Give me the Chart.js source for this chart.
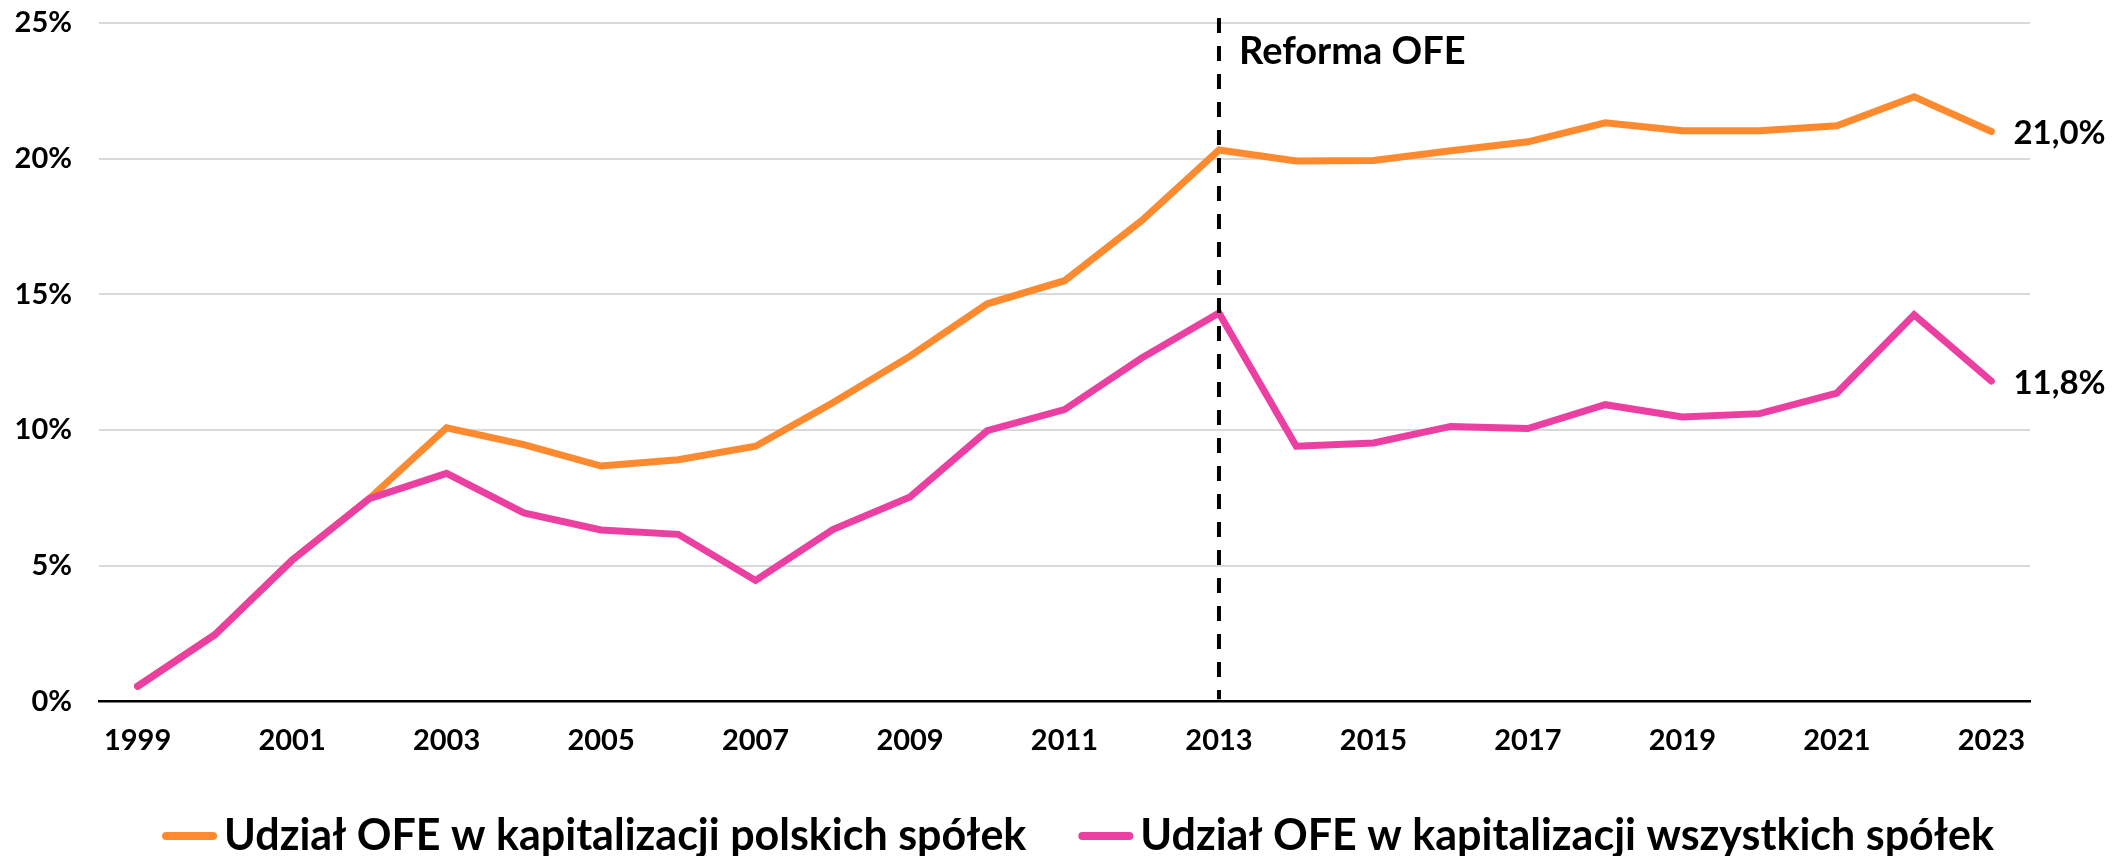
<!DOCTYPE html>
<html>
<head>
<meta charset="utf-8">
<script src="https://cdn.jsdelivr.net/npm/chart.js@4.4.1/dist/chart.umd.min.js"></script>
<style>
  body { margin: 0; background: #fff; }
  #wrap { width: 2116px; height: 856px; }
</style>
</head>
<body>
<div id="wrap"><canvas id="ofeChart"></canvas></div>
<script>
// dane
const years = ['1999', '2000', '2001', '2002', '2003', '2004', '2005', '2006', '2007', '2008', '2009', '2010',
  '2011', '2012', '2013', '2014', '2015', '2016', '2017', '2018', '2019', '2020', '2021', '2022', '2023'];
const polishShare = [0.55, 2.45, 5.2, 7.47, 10.08, 9.46, 8.67, 8.9, 9.4, 11.0, 12.72, 14.65,
  15.5, 17.72, 20.32, 19.91, 19.93, 20.29, 20.62, 21.32, 21.03, 21.03, 21.21, 22.28, 21.0];
const allShare = [0.55, 2.45, 5.2, 7.47, 8.4, 6.94, 6.31, 6.15, 4.45, 6.33, 7.53, 9.97,
  10.75, 12.65, 14.31, 9.4, 9.52, 10.13, 10.05, 10.93, 10.48, 10.6, 11.36, 14.24, 11.8];
const yTickValues = [0, 5, 10, 15, 20, 25];
const seriesNames = ['Udział OFE w kapitalizacji polskich spółek', 'Udział OFE w kapitalizacji wszystkich spółek'];
const reformYear = '2013';
const reformText = 'Reforma OFE';

const orange = '#fd8a2f';
const pink = '#ec3fa2';

Chart.defaults.font.family = 'Lato, "Open Sans", sans-serif';
Chart.defaults.color = '#000';

// pionowa linia reformy
const reformLine = {
  id: 'reformLine',
  afterDatasetsDraw(chart) {
    const ctx = chart.ctx;
    const x = chart.scales.x.getPixelForValue(years.indexOf(reformYear));
    ctx.save();
    ctx.strokeStyle = '#000';
    ctx.lineWidth = 4;
    ctx.setLineDash([15, 13]);
    ctx.beginPath();
    ctx.moveTo(x, chart.chartArea.top - 5);
    ctx.lineTo(x, chart.chartArea.bottom - 2);
    ctx.stroke();
    ctx.setLineDash([]);
    ctx.font = 'bold 38px Lato';
    ctx.fillStyle = '#000';
    ctx.textBaseline = 'middle';
    ctx.fillText(reformText, x + 20, chart.chartArea.top + 29);
    ctx.restore();
  }
};

// etykiety ostatnich wartosci
const endLabels = {
  id: 'endLabels',
  afterDatasetsDraw(chart) {
    const ctx = chart.ctx;
    ctx.save();
    ctx.font = 'bold 33px Lato';
    ctx.fillStyle = '#000';
    ctx.textBaseline = 'middle';
    chart.data.datasets.forEach((ds, i) => {
      const pts = chart.getDatasetMeta(i).data;
      const last = pts[pts.length - 1];
      const v = ds.data[ds.data.length - 1];
      ctx.fillText(v.toFixed(1).replace('.', ',') + '%', last.x + 22, last.y + 2);
    });
    ctx.restore();
  }
};

// legenda pod wykresem
const bottomLegend = {
  id: 'bottomLegend',
  afterDraw(chart) {
    const ctx = chart.ctx;
    const sw = 47, gap = 11, between = 56, y = 836;
    ctx.save();
    ctx.font = 'bold 43px Lato';
    ctx.textBaseline = 'middle';
    const items = chart.data.datasets.map(ds => ({ ds, w: ctx.measureText(ds.label).width }));
    const total = items.reduce((s, it) => s + sw + gap + it.w, 0) + between * (items.length - 1);
    let x = 1080 - total / 2;
    items.forEach(it => {
      ctx.strokeStyle = it.ds.borderColor;
      ctx.lineWidth = 8;
      ctx.lineCap = 'round';
      ctx.beginPath();
      ctx.moveTo(x, y);
      ctx.lineTo(x + sw, y);
      ctx.stroke();
      ctx.fillStyle = '#000';
      ctx.fillText(it.ds.label, x + sw + gap, y);
      x += sw + gap + it.w + between;
    });
    ctx.restore();
  }
};

new Chart(document.getElementById('ofeChart'), {
  type: 'line',
  data: {
    labels: years,
    datasets: [{
      label: seriesNames[0],
      data: polishShare,
      borderColor: orange,
      backgroundColor: orange,
      borderWidth: 7,
      borderCapStyle: 'round',
      pointRadius: 0,
      order: 1
    }, {
      label: seriesNames[1],
      data: allShare,
      borderColor: pink,
      backgroundColor: pink,
      borderWidth: 7,
      borderCapStyle: 'round',
      pointRadius: 0,
      order: 0
    }]
  },
  options: {
    responsive: true,
    maintainAspectRatio: false,
    animation: false,
    layout: { padding: { top: 23, right: 86, left: 0, bottom: 76 } },
    scales: {
      x: {
        offset: true,
        grid: { display: false, drawTicks: false },
        border: { display: true, color: '#000', width: 2.5 },
        ticks: {
          autoSkip: false,
          maxRotation: 0,
          padding: 22,
          font: { size: 29, weight: 'bold' },
          callback: function(val, i) { return i % 2 === 0 ? this.getLabelForValue(val) : ''; }
        }
      },
      y: {
        min: 0,
        max: 25,
        afterBuildTicks: s => { s.ticks = yTickValues.map(v => ({ value: v })); },
        afterFit: s => { s.width = 99; },
        border: { display: false },
        grid: { color: '#d9d9d9', lineWidth: 2, drawTicks: true, tickLength: 27, tickColor: 'rgba(0,0,0,0)' },
        ticks: {
          padding: 0,
          font: { size: 29, weight: 'bold' },
          callback: v => v + '%'
        }
      }
    },
    plugins: {
      tooltip: { enabled: false },
      legend: { display: false }
    }
  },
  plugins: [reformLine, endLabels, bottomLegend]
});
</script>
</body>
</html>
